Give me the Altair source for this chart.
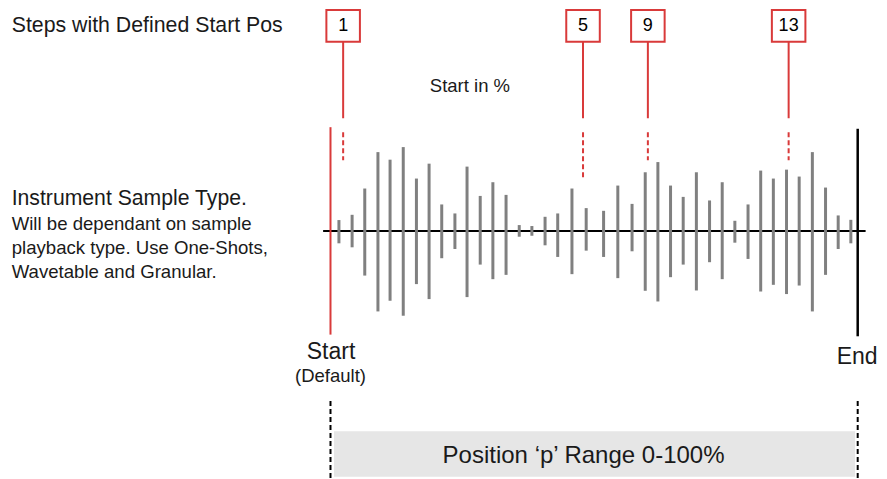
import altair as alt
import pandas as pd

# ---- waveform samples (position in % of sample length, amplitude in % of max) ----
positions = [1.6, 4.1, 6.5, 9.0, 11.3, 13.8, 16.3, 18.7, 21.1, 23.6,
             25.9, 28.4, 30.8, 33.3, 35.8, 38.2, 40.7, 43.1, 45.8, 48.5,
             51.8, 54.5, 57.2, 59.7, 62.1, 64.5, 66.9, 69.4, 71.9, 74.3,
             76.7, 79.2, 81.6, 84.0, 86.5, 88.9, 91.4, 93.9, 96.3, 98.7]
tops = [13.8, 20.4, 53.4, 99.1, 89.6, 105.4, 65.9, 84.6, 33.4, 22.1,
        80.9, 44.1, 61.3, 45.4, 7.5, 6.3, 17.9, 22.1, 53.4, 28.8,
        25.4, 57.1, 34.1, 73.8, 86.6, 57.1, 42.9, 73.8, 38.4, 61.3,
        12.9, 33.4, 75.9, 65.9, 77.1, 68.4, 99.1, 54.6, 19.6, 14.1]
bottoms = [-15.4, -20.4, -55.9, -100.9, -87.5, -106.3, -66.6, -85.4, -34.1, -22.5,
           -82.9, -42.1, -60.4, -55.0, -7.1, -5.9, -17.9, -32.5, -54.1, -24.6,
           -32.5, -59.1, -25.4, -75.0, -88.4, -57.9, -42.1, -74.6, -39.1, -60.4,
           -14.6, -35.0, -75.9, -67.5, -79.1, -68.4, -100.9, -55.0, -22.5, -15.4]

# ---- steps with defined start positions ----
step_labels = ["1", "5", "9", "13"]
step_pos = [2.4, 47.9, 60.2, 86.9]
step_dash_end = [88.75, 63.75, 88.75, 88.75]

RED = "#d93a3a"
GRAY = "#808080"

xs = alt.Scale(domain=[-61.17, 104.04], nice=False, zero=False)
ys = alt.Scale(domain=[-310.0, 278.75], nice=False, zero=False)


def X(f):
    return alt.X(f, type="quantitative", scale=xs, axis=None)


def Y(f):
    return alt.Y(f, type="quantitative", scale=ys, axis=None)


wave = pd.DataFrame({"p": positions, "top": tops, "bot": bottoms})
steps = pd.DataFrame({
    "p": step_pos, "label": step_labels,
    "l": [v - 3.18 for v in step_pos], "r": [v + 3.18 for v in step_pos],
    "dash_end": step_dash_end,
})

# center line
center = alt.Chart(pd.DataFrame({"a": [-1.4], "b": [101.5], "y": [0.0]})).mark_rule(
    color="black", strokeWidth=2
).encode(x=X("a"), x2="b", y=Y("y"))

bars = alt.Chart(wave).mark_rule(color=GRAY, strokeWidth=3).encode(
    x=X("p"), y=Y("top"), y2="bot"
)

start_line = alt.Chart(pd.DataFrame({"p": [0.0], "a": [130.4], "b": [-130.0]})).mark_rule(
    color=RED, strokeWidth=2
).encode(x=X("p"), y=Y("a"), y2="b")

end_line = alt.Chart(pd.DataFrame({"p": [100.0], "a": [128.4], "b": [-132.1]})).mark_rule(
    color="black", strokeWidth=2.5
).encode(x=X("p"), y=Y("a"), y2="b")

stems = alt.Chart(steps).mark_rule(color=RED, strokeWidth=2).encode(
    x=X("p"), y=Y("s0"), y2="s1"
).transform_calculate(s0="237.5", s1="141.6")

dashes = alt.Chart(steps).mark_rule(color=RED, strokeWidth=2, strokeDash=[5, 3]).encode(
    x=X("p"), y=Y("d0"), y2="dash_end"
).transform_calculate(d0="124.1")

boxes = alt.Chart(steps).mark_rect(fill="white", stroke=RED, strokeWidth=2).encode(
    x=X("l"), x2="r", y=Y("b0"), y2="b1"
).transform_calculate(b0="237.5", b1="277.5")

box_text = alt.Chart(steps).mark_text(
    fontSize=18, font="Liberation Sans", color="black", baseline="middle", align="center"
).encode(x=X("p"), y=Y("ty"), text="label:N").transform_calculate(ty="257.5")

# range band
band = alt.Chart(pd.DataFrame({"a": [0.66], "b": [99.5], "c": [-251.25], "d": [-308.4]})).mark_rect(
    color="#e6e6e6"
).encode(x=X("a"), x2="b", y=Y("c"), y2="d")

range_dash = alt.Chart(pd.DataFrame({"p": [0.0, 100.0], "a": [-213.4, -213.4], "b": [-310.0, -310.0]})).mark_rule(
    color="black", strokeWidth=2, strokeDash=[5, 3]
).encode(x=X("p"), y=Y("a"), y2="b")

left_texts = pd.DataFrame({
    "p": [-60.47, -60.47, -60.47, -60.47, -60.47],
    "amp": [249.4, 32.5, 1.25, -28.75, -58.75],
    "text": ["Steps with Defined Start Pos", "Instrument Sample Type.",
             "Will be dependant on sample", "playback type. Use One-Shots,",
             "Wavetable and Granular."],
    "size": [21.3, 21.2, 18.6, 18.6, 18.6],
})
left_layer = alt.Chart(left_texts).mark_text(
    align="left", baseline="alphabetic", font="Liberation Sans", color="#1a1a1a"
).encode(x=X("p"), y=Y("amp"), text="text:N", size=alt.Size("size:Q", scale=None, legend=None))

center_texts = pd.DataFrame({
    "p": [26.45, 0.1, 0.0, 99.9, 48.0],
    "amp": [174.1, -160.4, -189.6, -167.5, -291.25],
    "text": ["Start in %", "Start", "(Default)", "End", "Position \u2018p\u2019 Range 0-100%"],
    "size": [18.5, 23, 18.5, 23, 24],
})
center_layer = alt.Chart(center_texts).mark_text(
    align="center", baseline="alphabetic", font="Liberation Sans", color="#1a1a1a"
).encode(x=X("p"), y=Y("amp"), text="text:N", size=alt.Size("size:Q", scale=None, legend=None))

chart = alt.layer(
    band, range_dash, center, bars, start_line, end_line, stems, dashes, boxes, box_text,
    left_layer, center_layer,
).properties(
    width=871, height=471, padding=0,
    autosize=alt.AutoSizeParams(type="fit", contains="padding"),
    background="white",
).configure_view(stroke=None)

chart.save("out.html", embed_options={"renderer": "svg", "actions": False})
